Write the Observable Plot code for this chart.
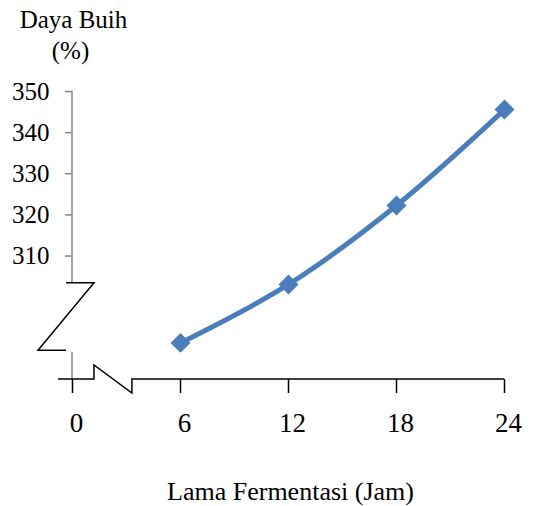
<!DOCTYPE html>
<html>
<head>
<meta charset="utf-8">
<script src="https://cdn.jsdelivr.net/npm/d3@7"></script>
<script src="https://cdn.jsdelivr.net/npm/@observablehq/plot@0.6"></script>
<style>
  body { margin: 0; background: #fff; }
  svg { display: block; }
</style>
</head>
<body>
<div id="chart"></div>
<script>
// Foaming capacity over fermentation time
const hours = [6, 12, 18, 24];
const foam = [288.9, 303.1, 322.3, 345.6];

const xTicks = [0, 6, 12, 18, 24];
const yTicks = [310, 320, 330, 340, 350];
const xDomain = [0, 24];
const yDomain = [280, 350];

// value ranges hidden by the axis breaks
const yBreak = [287, 303.4];
const xBreak = [1.22, 3.33];

const xTitle = "Lama Fermentasi (Jam)";
const yTitle = ["Daya Buih", "(%)"];

const data = hours.map((h, i) => ({h, v: foam[i]}));

const blue = "#4a7ebb";
const grey = "#868686";

// broken axis lines, placed with the scales
function axisBreaks(index, scales) {
  const sx = scales.x, sy = scales.y;
  const x0 = sx(0);
  const ay = sy(yDomain[0]);
  const yTop = sy(yBreak[1]);
  const yBot = sy(yBreak[0]);
  const g = d3.create("svg:g").attr("fill", "none");
  // grey value axis, interrupted
  g.append("path")
    .attr("stroke", grey).attr("stroke-width", 1.5)
    .attr("d", `M${x0},${sy(yDomain[1])}V${yTop}M${x0},${yBot + 2}V${ay}`);
  // Z-shaped break mark on the value axis
  g.append("path")
    .attr("stroke", "black").attr("stroke-width", 1.5)
    .attr("d", `M${x0 - 6},${yTop}H${x0 + 22}L${x0 - 34},${yBot}H${x0 - 6}`);
  // black time axis with its own break
  g.append("path")
    .attr("stroke", "black").attr("stroke-width", 1.5)
    .attr("d", `M${x0 - 14},${ay}H${sx(xBreak[0])}V${ay - 14}L${sx(xBreak[1])},${ay + 14}V${ay}H${sx(xDomain[1])}`);
  return g.node();
}

const chart = Plot.plot({
  width: 533,
  height: 506,
  marginLeft: 72,
  marginRight: 29,
  marginTop: 91,
  marginBottom: 127,
  style: {
    fontFamily: "'Liberation Serif', 'Times New Roman', serif",
    fontSize: "25px",
    background: "white",
    color: "black"
  },
  x: {domain: xDomain},
  y: {domain: yDomain},
  marks: [
    Plot.axisY({ticks: yTicks, tickSize: 7, tickPadding: 16, stroke: grey, strokeWidth: 1.5, fill: "black", fontSize: 25, label: null}),
    // time ticks
    Plot.axisX({ticks: xTicks, tickSize: 14, tickFormat: () => "", stroke: "black", strokeWidth: 1.5, label: null}),
    // time labels, nudged right of their ticks
    Plot.axisX({ticks: xTicks, tickSize: 0, tickPadding: 33, stroke: "none", fill: "black", fontSize: 27, dx: 4, label: null}),
    axisBreaks,
    Plot.line(data, {x: "h", y: "v", stroke: blue, strokeWidth: 5, curve: "catmull-rom"}),
    Plot.dot(data, {x: "h", y: "v", symbol: "diamond2", r: 9, fill: blue, stroke: null}),
    Plot.text([yTitle[0]], {text: d => d, frameAnchor: "top-left", dx: 1, dy: -72, fontSize: 25, textAnchor: "middle", lineAnchor: "middle"}),
    Plot.text([yTitle[1]], {text: d => d, frameAnchor: "top-left", dx: -2, dy: -41, fontSize: 25, textAnchor: "middle", lineAnchor: "middle"}),
    Plot.text([xTitle], {text: d => d, frameAnchor: "bottom", dx: 2, dy: 112, fontSize: 26, textAnchor: "middle", lineAnchor: "middle"})
  ]
});

document.getElementById("chart").append(chart);
</script>
</body>
</html>
